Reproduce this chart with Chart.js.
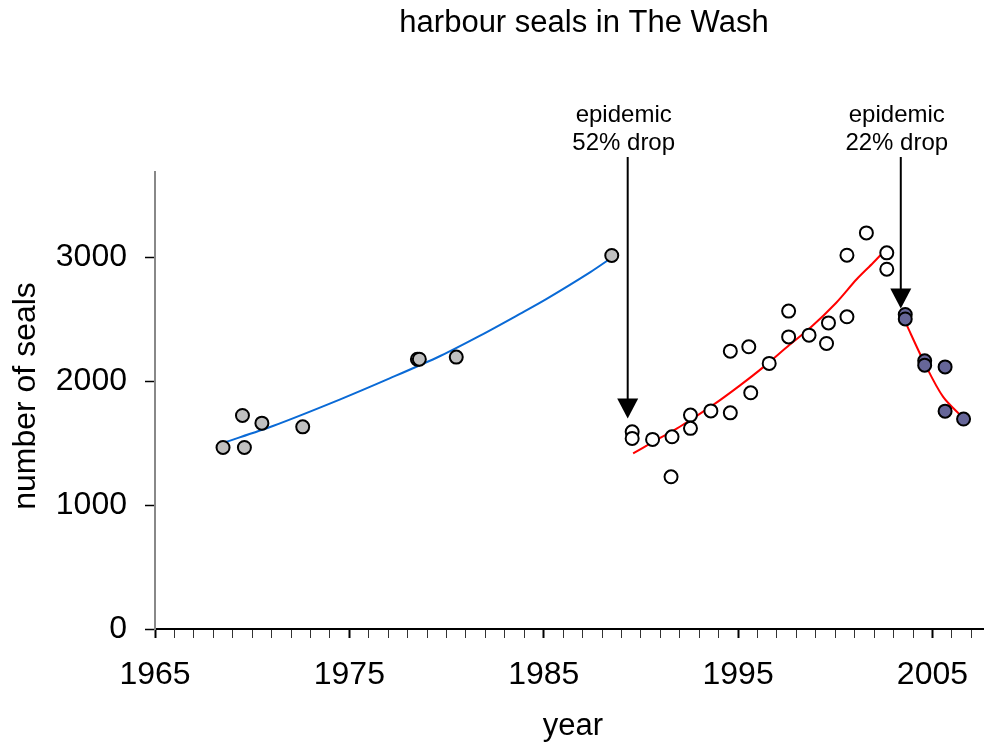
<!DOCTYPE html>
<html>
<head>
<meta charset="utf-8">
<script src="https://cdn.jsdelivr.net/npm/chart.js@4.4.1/dist/chart.umd.min.js"></script>
<style>
html,body{margin:0;padding:0;background:#fff;}
canvas{display:block;}
</style>
</head>
<body>
<canvas id="c" width="984" height="749"></canvas>
<script>
// ---- text ----
const titleText = 'harbour seals in The Wash';
const xAxisTitle = 'year';
const yAxisTitle = 'number of seals';
const xTickLabels = [1965, 1975, 1985, 1995, 2005];
const yTickValues = [0, 1000, 2000, 3000];

// ---- counts before 1988 epidemic (grey dots) ----
const earlyYears  = [1968.5, 1969.6, 1969.5, 1970.5, 1972.6, 1978.5, 1978.6, 1980.5, 1988.5];
const earlyCounts = [1465, 1465, 1723, 1661, 1631, 2177, 2177, 2194, 3014];

// ---- counts 1989-2002 (open dots) ----
const midYears  = [1989.55, 1989.55, 1990.6, 1991.6, 1991.55, 1992.55, 1992.55, 1993.6, 1994.6, 1994.6,
                   1995.55, 1995.65, 1996.6, 1997.6, 1997.6, 1998.65, 1999.65, 1999.55, 2000.6, 2000.6,
                   2001.6, 2002.65, 2002.65];
const midCounts = [1591, 1538, 1530, 1551, 1228, 1726, 1619, 1760, 1744, 2242,
                   2277, 1906, 2143, 2565, 2357, 2371, 2470, 2304, 3016, 2519,
                   3196, 3035, 2903];

// ---- counts after 2002 epidemic (purple dots) ----
const lateYears  = [2003.6, 2003.6, 2004.6, 2004.6, 2005.65, 2005.65, 2006.6];
const lateCounts = [2538, 2502, 2164, 2129, 2115, 1758, 1694];

// ---- fitted trend lines ----
const fitEarlyYears  = [1968.5, 1971.1, 1974.5, 1977.1, 1979.7, 1981.7, 1983.8, 1985.15, 1987.4, 1988.55];
const fitEarlyCounts = [1502, 1640, 1851, 2024, 2205, 2365, 2545, 2664, 2880, 3002];
const fitMidYears  = [1989.6, 1990.6, 1992.0, 1993.7, 1995.1, 1996.3, 1997.65, 1998.7, 2000.05, 2001.1, 2001.95, 2002.65];
const fitMidCounts = [1417, 1507, 1632, 1806, 1966, 2113, 2293, 2428, 2633, 2822, 2955, 3070];
const fitLateYears  = [2003.6, 2004.6, 2005.55, 2006.6];
const fitLateCounts = [2478, 2143, 1873, 1699];

// ---- epidemic arrows ----
const epidemicYears = [1989.32, 2003.37];
const epidemicTips  = [1699, 2586];
const epidemicLabels = [['epidemic', '52% drop'], ['epidemic', '22% drop']];

const pts = (xs, ys) => xs.map((x, i) => ({x: x, y: ys[i]}));
const FONT = '"Liberation Sans", Arial, Helvetica, sans-serif';

const overlay = {
  id: 'overlay',
  afterDatasetsDraw(chart) {
    const {ctx, scales: {x, y}} = chart;
    ctx.save();
    ctx.fillStyle = '#000';
    ctx.strokeStyle = '#000';
    epidemicYears.forEach((yr, i) => {
      const px = x.getPixelForValue(yr);
      const tip = y.getPixelForValue(epidemicTips[i]);
      const headH = 20, headW = 21;
      ctx.lineWidth = 2;
      ctx.beginPath();
      ctx.moveTo(px, 157);
      ctx.lineTo(px, tip - headH + 1);
      ctx.stroke();
      ctx.beginPath();
      ctx.moveTo(px - headW / 2, tip - headH);
      ctx.lineTo(px + headW / 2, tip - headH);
      ctx.lineTo(px, tip);
      ctx.closePath();
      ctx.fill();
      ctx.font = '24px ' + FONT;
      ctx.textAlign = 'center';
      ctx.textBaseline = 'alphabetic';
      ctx.fillText(epidemicLabels[i][0], px - 4, 122);
      ctx.fillText(epidemicLabels[i][1], px - 4, 150);
    });
    ctx.restore();
  },
  afterDraw(chart) {
    const {ctx} = chart;
    ctx.save();
    ctx.fillStyle = '#000';
    ctx.textAlign = 'center';
    ctx.textBaseline = 'alphabetic';
    ctx.font = '31px ' + FONT;
    ctx.fillText(titleText, 584, 32);
    ctx.font = '31px ' + FONT;
    ctx.fillText(xAxisTitle, 573, 735);
    ctx.font = '32px ' + FONT;
    ctx.translate(35, 396);
    ctx.rotate(-Math.PI / 2);
    ctx.fillText(yAxisTitle, 0, 0);
    ctx.restore();
  }
};

new Chart(document.getElementById('c'), {
  type: 'scatter',
  data: {
    datasets: [
      {data: pts(earlyYears, earlyCounts), backgroundColor: '#c0c0c0', borderColor: '#000', borderWidth: 2, pointRadius: 6.5},
      {data: pts(midYears, midCounts), backgroundColor: '#ffffff', borderColor: '#000', borderWidth: 2, pointRadius: 6.5},
      {data: pts(lateYears, lateCounts), backgroundColor: '#666699', borderColor: '#000', borderWidth: 2, pointRadius: 6.5},
      {data: pts(fitEarlyYears, fitEarlyCounts), showLine: true, borderColor: '#0a6ad6', borderWidth: 2, pointRadius: 0, tension: 0.3, fill: false},
      {data: pts(fitMidYears, fitMidCounts), showLine: true, borderColor: '#ff0000', borderWidth: 2, pointRadius: 0, tension: 0.3, fill: false},
      {data: pts(fitLateYears, fitLateCounts), showLine: true, borderColor: '#ff0000', borderWidth: 2, pointRadius: 0, tension: 0.3, fill: false}
    ]
  },
  options: {
    responsive: false,
    animation: false,
    devicePixelRatio: 1,
    layout: {autoPadding: false, padding: {left: 0, right: 1, top: 171.7, bottom: 0}},
    plugins: {legend: {display: false}, tooltip: {enabled: false}, title: {display: false}},
    scales: {
      x: {
        type: 'linear',
        min: 1965,
        max: 2007.6,
        afterBuildTicks: (s) => {
          const t = [];
          for (let v = 1965; v <= 2007; v++) t.push({value: v});
          s.ticks = t;
        },
        afterFit: (s) => { s.height = 120; s.paddingRight = 0; s.paddingLeft = 0; },
        ticks: {
          autoSkip: false,
          maxRotation: 0,
          color: '#000',
          font: {family: FONT, size: 32},
          padding: 18,
          callback: (v) => xTickLabels.includes(v) ? String(v) : ''
        },
        grid: {
          drawOnChartArea: false,
          drawTicks: true,
          tickLength: 9,
          tickColor: (c) => (c.tick && xTickLabels.includes(c.tick.value)) ? '#000' : '#333',
          tickWidth: (c) => (c.tick && xTickLabels.includes(c.tick.value)) ? 2 : 1
        },
        border: {display: true, color: '#000', width: 2}
      },
      y: {
        type: 'linear',
        min: 0,
        max: 3690,
        afterBuildTicks: (s) => { s.ticks = yTickValues.map(v => ({value: v})); },
        afterFit: (s) => { s.width = 155; },
        ticks: {
          color: '#000',
          font: {family: FONT, size: 32},
          padding: 18,
          callback: (v) => String(v)
        },
        grid: {
          drawOnChartArea: false,
          drawTicks: true,
          tickLength: 10,
          tickColor: '#000',
          tickWidth: 1.5
        },
        border: {display: true, color: '#888', width: 2}
      }
    }
  },
  plugins: [overlay]
});
</script>
</body>
</html>
